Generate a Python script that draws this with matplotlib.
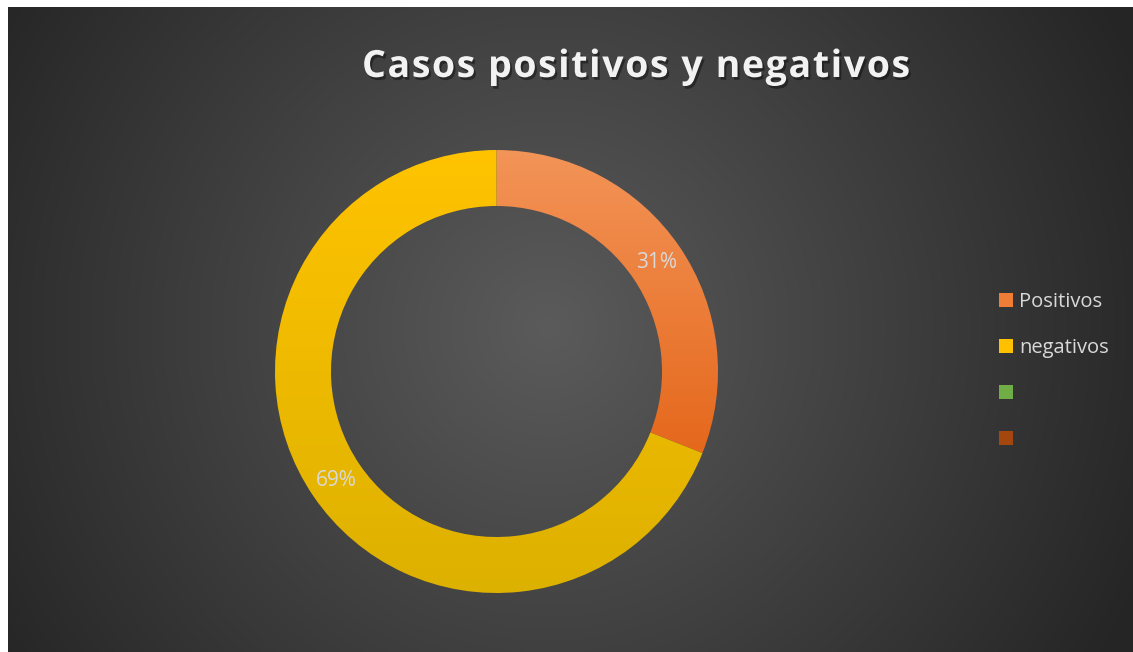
import numpy as np
import matplotlib
matplotlib.use("Agg")
import matplotlib.pyplot as plt
from matplotlib.patches import Patch
import matplotlib.patheffects as pe
from matplotlib.colors import LinearSegmentedColormap

TITLE = "Casos positivos y negativos"
CATEGORIES = ["Positivos", "negativos", "", ""]
VALUES = [31, 69]

W, H = 1133, 652
fig = plt.figure(figsize=(W / 100, H / 100), dpi=100)
fig.patch.set_facecolor("white")

# background: dark radial gradient inside the chart area
bg = fig.add_axes([8 / W, 0, (W - 8) / W, (H - 7) / H])
bg.set_axis_off()
yy, xx = np.mgrid[0:H - 7, 0:W - 8]
d = np.hypot(xx - 540, yy - 320) / 650
d = np.clip(d, 0, 1)
c0 = np.array([0x5b, 0x5b, 0x5b]) / 255
c1 = np.array([0x25, 0x25, 0x25]) / 255
img = c0[None, None, :] * (1 - d[..., None]) + c1[None, None, :] * d[..., None]
bg.imshow(img, aspect="auto", interpolation="bilinear")

# donut
cx, cy, r = 496.5, 371.5, 221.5
ax = fig.add_axes([(cx - r) / W, 1 - (cy + r) / H, 2 * r / W, 2 * r / H])
wedges, _, autotexts = ax.pie(VALUES, startangle=90, counterclock=False,
                              colors=["#F08040", "#F5BB00"],
                              autopct=lambda p: f"{p:.0f}%", pctdistance=0.876,
                              wedgeprops=dict(width=56 / r, linewidth=0),
                              textprops=dict(color="#D9D9D9", fontsize=15,
                                             family="Open Sans"))

grads = [("#F39458", "#E5681C"), ("#FFC300", "#DDB100")]
for w, (top, bot) in zip(wedges, grads):
    cmap = LinearSegmentedColormap.from_list("g", [bot, top])
    g = np.linspace(0, 1, 256).reshape(-1, 1)
    bb = w.get_path().get_extents()
    im = ax.imshow(g, cmap=cmap, origin="lower", aspect="auto",
                   extent=[bb.x0, bb.x1, bb.y0, bb.y1], zorder=w.get_zorder())
    im.set_clip_path(w)
    w.set_facecolor("none")
for t in autotexts:
    t.set_zorder(5)
ax.set_xlim(-1, 1)
ax.set_ylim(-1, 1)

# legend
handles = [Patch(facecolor=c, edgecolor="none") for c in
           ["#F07D35", "#FFC000", "#70AD47", "#A3470F"]]
leg = fig.legend(handles, CATEGORIES, loc="center left",
                 bbox_to_anchor=(981 / W, 1 - 371 / H), frameon=False,
                 handlelength=0.7, handleheight=0.7, handletextpad=0.3,
                 labelspacing=1.3,
                 prop=dict(family="Open Sans", size=14.5))
for t in leg.get_texts():
    t.set_color("#D9D9D9")

# title with letter spacing, drawn char by char
tprops = dict(fontsize=27, fontweight="bold", family="Open Sans", color="#F2F2F2")
renderer = fig.canvas.get_renderer()


def text_width(s):
    t = fig.text(0, 0, s + "|", **tprops)
    w1 = t.get_window_extent(renderer).width
    t.remove()
    t = fig.text(0, 0, "|", **tprops)
    w2 = t.get_window_extent(renderer).width
    t.remove()
    return w1 - w2


natural = text_width(TITLE)
target = 548
spacing = (target - natural) / (len(TITLE) - 1)
x0 = 636 - target / 2
shadow = [pe.withSimplePatchShadow(offset=(1.5, -2), shadow_rgbFace="black", alpha=0.4)]
for i, ch in enumerate(TITLE):
    if ch == " ":
        continue
    x = x0 + text_width(TITLE[:i]) + spacing * i
    fig.text(x / W, 1 - 77 / H, ch, ha="left", va="baseline",
             path_effects=shadow, **tprops)

fig.savefig("out.png", dpi=100, facecolor=fig.get_facecolor())
